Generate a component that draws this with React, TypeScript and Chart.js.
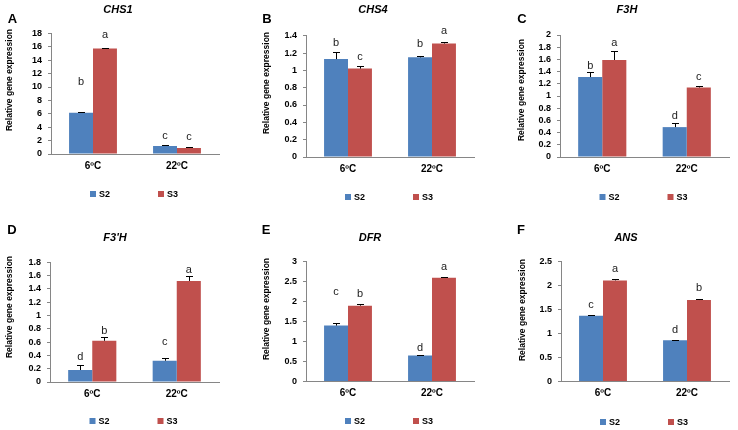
import React, { useEffect, useRef } from 'react';
import { Chart, registerables } from 'chart.js';

Chart.register(...registerables);

// ---------- shared ----------
const categories = ['6ºC', '22ºC'];
const seriesNames = ['S2', 'S3'];
const seriesColors = ['#4F81BD', '#C0504D'];
const yAxisTitle = 'Relative gene expression';

// ---------- A: CHS1 ----------
const chs1S2 = [6.15, 1.2];
const chs1S3 = [15.75, 0.9];
const chs1S2Err = [0.1, 0.12];
const chs1S3Err = [0.08, 0.1];
const chs1S2Letters = ['b', 'c'];
const chs1S3Letters = ['a', 'c'];
const chs1S2LetterAt = [10.7, 2.7];
const chs1S3LetterAt = [17.7, 2.5];
const chs1Ticks = [0, 2, 4, 6, 8, 10, 12, 14, 16, 18];

// ---------- B: CHS4 ----------
const chs4S2 = [1.13, 1.15];
const chs4S3 = [1.02, 1.31];
const chs4S2Err = [0.08, 0.02];
const chs4S3Err = [0.03, 0.02];
const chs4S2Letters = ['b', 'b'];
const chs4S3Letters = ['c', 'a'];
const chs4S2LetterAt = [1.32, 1.3];
const chs4S3LetterAt = [1.16, 1.45];
const chs4Ticks = [0, 0.2, 0.4, 0.6, 0.8, 1, 1.2, 1.4];

// ---------- C: F3H ----------
const f3hS2 = [1.31, 0.49];
const f3hS3 = [1.59, 1.14];
const f3hS2Err = [0.08, 0.07];
const f3hS3Err = [0.15, 0.02];
const f3hS2Letters = ['b', 'd'];
const f3hS3Letters = ['a', 'c'];
const f3hS2LetterAt = [1.49, 0.67];
const f3hS3LetterAt = [1.87, 1.31];
const f3hTicks = [0, 0.2, 0.4, 0.6, 0.8, 1, 1.2, 1.4, 1.6, 1.8, 2];

// ---------- D: F3'H ----------
const f3phS2 = [0.18, 0.32];
const f3phS3 = [0.62, 1.52];
const f3phS2Err = [0.08, 0.045];
const f3phS3Err = [0.06, 0.075];
const f3phS2Letters = ['d', 'c'];
const f3phS3Letters = ['b', 'a'];
const f3phS2LetterAt = [0.375, 0.6];
const f3phS3LetterAt = [0.765, 1.68];
const f3phTicks = [0, 0.2, 0.4, 0.6, 0.8, 1, 1.2, 1.4, 1.6, 1.8];

// ---------- E: DFR ----------
const dfrS2 = [1.4, 0.65];
const dfrS3 = [1.9, 2.6];
const dfrS2Err = [0.06, 0.02];
const dfrS3Err = [0.03, 0.01];
const dfrS2Letters = ['c', 'd'];
const dfrS3Letters = ['b', 'a'];
const dfrS2LetterAt = [2.25, 0.85];
const dfrS3LetterAt = [2.18, 2.88];
const dfrTicks = [0, 0.5, 1, 1.5, 2, 2.5, 3];

// ---------- F: ANS ----------
const ansS2 = [1.37, 0.86];
const ansS3 = [2.11, 1.7];
const ansS2Err = [0.02, 0.01];
const ansS3Err = [0.03, 0.02];
const ansS2Letters = ['c', 'd'];
const ansS3Letters = ['a', 'b'];
const ansS2LetterAt = [1.6, 1.08];
const ansS3LetterAt = [2.35, 1.96];
const ansTicks = [0, 0.5, 1, 1.5, 2, 2.5];

const FONT = '"Liberation Sans", Arial, sans-serif';
const AXIS_COLOR = '#868686';
const X_AXIS_H = 20;

type Panel = {
  tag: string;
  gene: string;
  s2: number[]; s3: number[];
  s2Err: number[]; s3Err: number[];
  s2Letters: string[]; s3Letters: string[];
  s2LetterAt: number[]; s3LetterAt: number[];
  ticks: number[];
  L: number; T: number; W: number; H: number;
  left: number; right: number; top: number; bottom: number;
  titleX: number; titleY: number;
  tagX: number; tagY: number;
  yTitleX: number; yTitleY: number;
  legendY: number;
};

const panels: Panel[] = [
  {
    tag: 'A', gene: 'CHS1', s2: chs1S2, s3: chs1S3, s2Err: chs1S2Err, s3Err: chs1S3Err,
    s2Letters: chs1S2Letters, s3Letters: chs1S3Letters, s2LetterAt: chs1S2LetterAt, s3LetterAt: chs1S3LetterAt,
    ticks: chs1Ticks,
    L: 0, T: 0, W: 245, H: 215, left: 51, right: 219, top: 33.4, bottom: 154,
    titleX: 118, titleY: 10, tagX: 12.5, tagY: 19.5, yTitleX: 10, yTitleY: 80, legendY: 194,
  },
  {
    tag: 'B', gene: 'CHS4', s2: chs4S2, s3: chs4S3, s2Err: chs4S2Err, s3Err: chs4S3Err,
    s2Letters: chs4S2Letters, s3Letters: chs4S3Letters, s2LetterAt: chs4S2LetterAt, s3LetterAt: chs4S3LetterAt,
    ticks: chs4Ticks,
    L: 245, T: 0, W: 245, H: 215, left: 306, right: 474, top: 35.7, bottom: 157,
    titleX: 373, titleY: 10, tagX: 267, tagY: 19, yTitleX: 267, yTitleY: 83, legendY: 197,
  },
  {
    tag: 'C', gene: 'F3H', s2: f3hS2, s3: f3hS3, s2Err: f3hS2Err, s3Err: f3hS3Err,
    s2Letters: f3hS2Letters, s3Letters: f3hS3Letters, s2LetterAt: f3hS2LetterAt, s3LetterAt: f3hS3LetterAt,
    ticks: f3hTicks,
    L: 490, T: 0, W: 248, H: 215, left: 560, right: 729, top: 35, bottom: 157,
    titleX: 627, titleY: 10, tagX: 522, tagY: 19.5, yTitleX: 522, yTitleY: 90, legendY: 197,
  },
  {
    tag: 'D', gene: "F3'H", s2: f3phS2, s3: f3phS3, s2Err: f3phS2Err, s3Err: f3phS3Err,
    s2Letters: f3phS2Letters, s3Letters: f3phS3Letters, s2LetterAt: f3phS2LetterAt, s3LetterAt: f3phS3LetterAt,
    ticks: f3phTicks,
    L: 0, T: 215, W: 245, H: 215, left: 50, right: 219, top: 262.3, bottom: 382,
    titleX: 115, titleY: 238, tagX: 12, tagY: 230, yTitleX: 10, yTitleY: 307, legendY: 421,
  },
  {
    tag: 'E', gene: 'DFR', s2: dfrS2, s3: dfrS3, s2Err: dfrS2Err, s3Err: dfrS3Err,
    s2Letters: dfrS2Letters, s3Letters: dfrS3Letters, s2LetterAt: dfrS2LetterAt, s3LetterAt: dfrS3LetterAt,
    ticks: dfrTicks,
    L: 245, T: 215, W: 245, H: 215, left: 306, right: 474, top: 261.7, bottom: 381.5,
    titleX: 370, titleY: 238, tagX: 266, tagY: 230, yTitleX: 267, yTitleY: 309, legendY: 421,
  },
  {
    tag: 'F', gene: 'ANS', s2: ansS2, s3: ansS3, s2Err: ansS2Err, s3Err: ansS3Err,
    s2Letters: ansS2Letters, s3Letters: ansS3Letters, s2LetterAt: ansS2LetterAt, s3LetterAt: ansS3LetterAt,
    ticks: ansTicks,
    L: 490, T: 215, W: 248, H: 215, left: 561, right: 729, top: 261.7, bottom: 381.5,
    titleX: 626, titleY: 238, tagX: 521, tagY: 230, yTitleX: 523, yTitleY: 310, legendY: 422,
  },
];

const decorPlugin = {
  id: 'decor',
  afterDatasetsDraw(chart: any) {
    const { ctx } = chart;
    const yScale = chart.scales.y;
    ctx.save();
    chart.data.datasets.forEach((ds: any, di: number) => {
      const meta = chart.getDatasetMeta(di);
      meta.data.forEach((bar: any, i: number) => {
        const v = ds.data[i];
        const e = ds.errors[i];
        const x = Math.round(bar.x) + 0.5;
        const yBar = yScale.getPixelForValue(v);
        const yTop = Math.round(yScale.getPixelForValue(v + e)) + 0.5;
        ctx.strokeStyle = '#000';
        ctx.lineWidth = 1;
        ctx.beginPath();
        ctx.moveTo(x, yBar);
        ctx.lineTo(x, yTop);
        ctx.moveTo(x - 3.5, yTop);
        ctx.lineTo(x + 3.5, yTop);
        ctx.stroke();
        ctx.fillStyle = '#222';
        ctx.font = `11px ${FONT}`;
        ctx.textAlign = 'center';
        ctx.textBaseline = 'middle';
        ctx.fillText(ds.letters[i], bar.x, yScale.getPixelForValue(ds.letterAt[i]));
      });
    });
    ctx.restore();
  },
  afterDraw(chart: any, _args: any, opts: any) {
    const { ctx, chartArea } = chart;
    ctx.save();
    ctx.fillStyle = '#000';
    ctx.textAlign = 'center';
    ctx.textBaseline = 'middle';
    ctx.font = `italic bold 11px ${FONT}`;
    ctx.fillText(opts.gene, opts.titleX, opts.titleY);
    ctx.font = `bold 13px ${FONT}`;
    ctx.fillText(opts.tag, opts.tagX, opts.tagY);
    ctx.save();
    ctx.translate(opts.yTitleX, opts.yTitleY);
    ctx.rotate(-Math.PI / 2);
    ctx.font = `bold 8.5px ${FONT}`;
    ctx.fillText(opts.yTitle, 0, 0);
    ctx.restore();
    const cx = (chartArea.left + chartArea.right) / 2;
    const base = cx - 45;
    chart.data.datasets.forEach((ds: any, i: number) => {
      const x = base + i * 68;
      ctx.fillStyle = ds.backgroundColor;
      ctx.fillRect(x, opts.legendY - 3, 6, 6);
      ctx.fillStyle = '#000';
      ctx.textAlign = 'left';
      ctx.font = `bold 9px ${FONT}`;
      ctx.fillText(ds.label, x + 9, opts.legendY + 0.5);
    });
    ctx.restore();
  },
};

function PanelChart({ p }: { p: Panel }) {
  const ref = useRef<HTMLCanvasElement | null>(null);
  useEffect(() => {
    if (!ref.current) return;
    const yWidth = p.left - p.L;
    const padR = p.L + p.W - p.right;
    const padTop = p.top - p.T;
    const padBottom = p.T + p.H - p.bottom - X_AXIS_H;
    const maxTick = p.ticks[p.ticks.length - 1];
    const chart = new Chart(ref.current, {
      type: 'bar',
      data: {
        labels: categories,
        datasets: [
          {
            label: seriesNames[0], data: p.s2, backgroundColor: seriesColors[0],
            errors: p.s2Err, letters: p.s2Letters, letterAt: p.s2LetterAt,
            categoryPercentage: 0.57, barPercentage: 1,
          } as any,
          {
            label: seriesNames[1], data: p.s3, backgroundColor: seriesColors[1],
            errors: p.s3Err, letters: p.s3Letters, letterAt: p.s3LetterAt,
            categoryPercentage: 0.57, barPercentage: 1,
          } as any,
        ],
      },
      options: {
        animation: false,
        responsive: false,
        events: [],
        layout: { padding: { left: 0, right: padR, top: padTop, bottom: padBottom } },
        plugins: {
          legend: { display: false },
          title: { display: false },
          tooltip: { enabled: false },
          decor: {
            gene: p.gene, tag: p.tag, yTitle: yAxisTitle,
            titleX: p.titleX - p.L, titleY: p.titleY - p.T,
            tagX: p.tagX - p.L, tagY: p.tagY - p.T,
            yTitleX: p.yTitleX - p.L, yTitleY: p.yTitleY - p.T,
            legendY: p.legendY - p.T,
          },
        } as any,
        scales: {
          x: {
            type: 'category',
            offset: true,
            grid: { display: false, drawTicks: false },
            border: { display: true, color: AXIS_COLOR, width: 1 },
            ticks: { padding: 6, color: '#000', font: { family: FONT, size: 10, weight: 'bold' } },
            afterFit: (s: any) => { s.height = X_AXIS_H; },
          },
          y: {
            min: 0,
            max: maxTick,
            grid: { drawOnChartArea: false, drawTicks: true, tickLength: 3, color: AXIS_COLOR },
            border: { display: true, color: AXIS_COLOR, width: 1 },
            ticks: {
              autoSkip: false,
              padding: 6, color: '#000', font: { family: FONT, size: 9, weight: 'bold' },
              callback: (v: any) => String(Math.round(Number(v) * 10) / 10),
            },
            afterBuildTicks: (s: any) => { s.ticks = p.ticks.map((v) => ({ value: v })); },
            afterFit: (s: any) => { s.width = yWidth; },
          },
        } as any,
      },
      plugins: [decorPlugin as any],
    });
    return () => chart.destroy();
  }, [p]);
  return (
    <canvas
      ref={ref}
      width={p.W}
      height={p.H}
      style={{ position: 'absolute', left: p.L, top: p.T, width: p.W, height: p.H }}
    />
  );
}

export default function App() {
  return (
    <div
      style={{
        position: 'fixed', left: 0, top: 0, width: 738, height: 430,
        overflow: 'hidden', background: '#fff',
      }}
    >
      {panels.map((p) => (
        <PanelChart key={p.tag} p={p} />
      ))}
    </div>
  );
}
